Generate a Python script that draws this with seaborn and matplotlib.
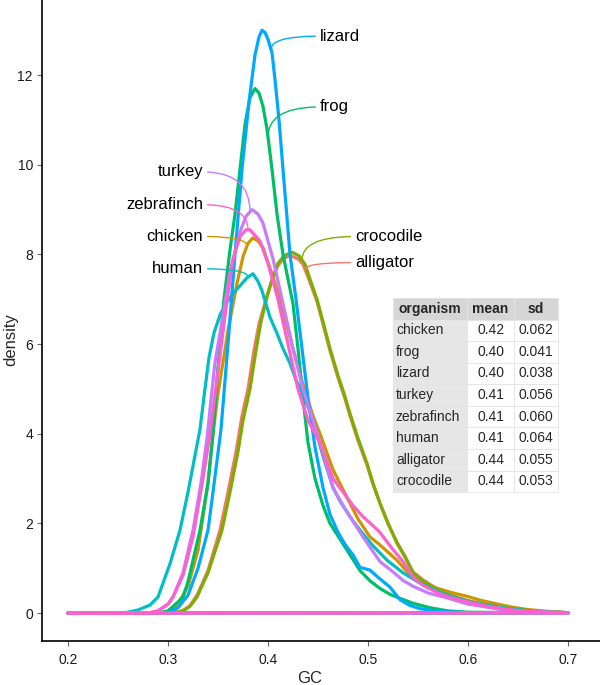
import numpy as np
import pandas as pd
import matplotlib
matplotlib.use("Agg")
import matplotlib.pyplot as plt
import seaborn as sns

# GC-content density per organism
organisms = ["alligator", "chicken", "crocodile", "frog", "human", "lizard", "turkey", "zebrafinch"]
colors = ["#F8766D", "#CD9600", "#7CAE00", "#00BE67", "#00BFC4", "#00A9FF", "#C77CFF", "#FF61CC"]

alligator_gc = [0.20, 0.30, 0.31, 0.315, 0.322, 0.329, 0.34, 0.352, 0.36, 0.368, 0.374, 0.38, 0.386, 0.391,
                0.398, 0.404, 0.41, 0.415, 0.422, 0.43, 0.435, 0.442, 0.449, 0.455, 0.462, 0.47, 0.476, 0.482,
                0.49, 0.499, 0.505, 0.512, 0.52, 0.529, 0.537, 0.545, 0.555, 0.565, 0.575, 0.585, 0.60, 0.62,
                0.64, 0.66, 0.68, 0.70]
alligator_d = [0, 0, 0.03, 0.06, 0.17, 0.4, 0.95, 1.85, 2.7, 3.6, 4.4, 5.0, 5.86, 6.45,
               7.0, 7.45, 7.75, 7.9, 7.98, 7.9, 7.78, 7.38, 6.95, 6.45, 5.85, 5.25, 4.85, 4.4,
               3.85, 3.3, 2.87, 2.45, 2.0, 1.58, 1.27, 0.92, 0.74, 0.6, 0.48, 0.38, 0.28, 0.18,
               0.11, 0.06, 0.03, 0.01]

chicken_gc = [0.20, 0.29, 0.30, 0.31, 0.32, 0.33, 0.34, 0.345, 0.35, 0.36, 0.369, 0.375, 0.38, 0.385,
              0.39, 0.395, 0.405, 0.415, 0.425, 0.435, 0.445, 0.452, 0.465, 0.479, 0.49, 0.502, 0.512,
              0.529, 0.54, 0.552, 0.565, 0.585, 0.60, 0.612, 0.63, 0.645, 0.66, 0.679, 0.70]
chicken_d = [0, 0, 0.03, 0.2, 0.6, 1.4, 2.9, 4.0, 4.9, 6.3, 7.35, 7.95, 8.25, 8.37,
             8.3, 8.15, 7.5, 6.75, 5.9, 5.1, 4.4, 4.0, 3.2, 2.58, 2.1, 1.7, 1.52,
             1.18, 0.9, 0.73, 0.58, 0.45, 0.37, 0.29, 0.2, 0.13, 0.08, 0.04, 0.01]

crocodile_gc = [0.20, 0.30, 0.31, 0.315, 0.322, 0.329, 0.34, 0.354, 0.362, 0.37, 0.375, 0.382, 0.388, 0.393,
                0.399, 0.405, 0.41, 0.416, 0.424, 0.431, 0.437, 0.442, 0.449, 0.455, 0.462, 0.47, 0.476,
                0.482, 0.49, 0.499, 0.505, 0.512, 0.52, 0.529, 0.537, 0.545, 0.555, 0.565, 0.575, 0.585,
                0.60, 0.62, 0.64, 0.66, 0.68, 0.70]
crocodile_d = [0, 0, 0.02, 0.05, 0.15, 0.36, 0.9, 1.85, 2.7, 3.6, 4.3, 5.0, 5.86, 6.5,
               7.05, 7.5, 7.8, 7.97, 8.05, 7.97, 7.78, 7.45, 7.0, 6.5, 5.9, 5.3, 4.9,
               4.45, 3.9, 3.34, 2.9, 2.45, 2.0, 1.56, 1.25, 0.9, 0.72, 0.58, 0.46, 0.37,
               0.27, 0.17, 0.1, 0.06, 0.03, 0.01]

frog_gc = [0.20, 0.29, 0.30, 0.31, 0.315, 0.32, 0.332, 0.34, 0.345, 0.35, 0.356, 0.362, 0.367, 0.372,
           0.377, 0.382, 0.387, 0.391, 0.395, 0.399, 0.404, 0.409, 0.415, 0.425, 0.43, 0.435, 0.44, 0.447,
           0.455, 0.462, 0.472, 0.482, 0.492, 0.502, 0.512, 0.522, 0.532, 0.545, 0.562, 0.58, 0.60, 0.70]
frog_d = [0, 0, 0.05, 0.25, 0.36, 0.7, 1.85, 2.9, 4.0, 5.5, 7.0, 8.1, 8.9, 9.9,
          10.9, 11.5, 11.7, 11.6, 11.3, 10.8, 9.9, 8.9, 8.0, 6.9, 5.9, 4.8, 3.8, 3.0,
          2.4, 2.0, 1.65, 1.3, 0.95, 0.72, 0.55, 0.42, 0.33, 0.22, 0.12, 0.05, 0.02, 0]

human_gc = [0.20, 0.25, 0.26, 0.27, 0.282, 0.29, 0.302, 0.312, 0.32, 0.326, 0.332, 0.337, 0.341, 0.346,
            0.352, 0.358, 0.365, 0.372, 0.379, 0.385, 0.39, 0.394, 0.402, 0.409, 0.415, 0.422, 0.428,
            0.435, 0.445, 0.455, 0.465, 0.472, 0.482, 0.492, 0.505, 0.519, 0.535, 0.552, 0.57, 0.585,
            0.60, 0.619, 0.635, 0.652, 0.675, 0.70]
human_d = [0, 0, 0.02, 0.07, 0.18, 0.36, 1.1, 1.85, 2.7, 3.4, 4.1, 5.0, 5.7, 6.25,
           6.65, 6.9, 7.13, 7.3, 7.48, 7.57, 7.4, 7.19, 6.6, 6.24, 5.9, 5.57, 5.2,
           4.9, 4.3, 3.5, 2.8, 2.5, 2.15, 1.85, 1.5, 1.18, 0.9, 0.67, 0.48, 0.36,
           0.26, 0.18, 0.12, 0.07, 0.03, 0.01]

lizard_gc = [0.20, 0.30, 0.31, 0.32, 0.33, 0.34, 0.345, 0.353, 0.36, 0.367, 0.374, 0.381, 0.387, 0.391,
             0.394, 0.397, 0.40, 0.404, 0.407, 0.411, 0.415, 0.422, 0.428, 0.434, 0.44, 0.447, 0.455, 0.462,
             0.47, 0.478, 0.485, 0.492, 0.502, 0.51, 0.522, 0.532, 0.542, 0.552, 0.57, 0.60, 0.70]
lizard_d = [0, 0, 0.12, 0.4, 1.0, 1.85, 2.7, 4.1, 6.0, 8.0, 9.9, 11.4, 12.45, 12.85,
            13.0, 12.95, 12.8, 12.5, 11.9, 11.0, 9.9, 8.0, 7.0, 5.9, 4.8, 3.7, 2.8, 2.2,
            1.8, 1.5, 1.3, 1.02, 0.96, 0.8, 0.58, 0.3, 0.17, 0.1, 0.04, 0.01, 0]

turkey_gc = [0.20, 0.28, 0.29, 0.30, 0.305, 0.315, 0.325, 0.333, 0.339, 0.347, 0.354, 0.362, 0.372, 0.378,
             0.384, 0.39, 0.395, 0.405, 0.415, 0.425, 0.435, 0.445, 0.452, 0.465, 0.475, 0.485, 0.495,
             0.502, 0.512, 0.525, 0.535, 0.545, 0.56, 0.579, 0.60, 0.612, 0.63, 0.652, 0.68, 0.70]
turkey_d = [0, 0, 0.05, 0.2, 0.36, 0.9, 1.85, 2.9, 3.9, 5.6, 6.5, 7.6, 8.5, 8.85,
            9.0, 8.9, 8.7, 7.9, 6.9, 5.9, 5.0, 4.3, 3.8, 2.8, 2.4, 2.05, 1.7,
            1.47, 1.15, 0.92, 0.73, 0.6, 0.45, 0.34, 0.2, 0.16, 0.09, 0.04, 0.01, 0]

zebrafinch_gc = [0.20, 0.28, 0.29, 0.30, 0.305, 0.315, 0.325, 0.335, 0.342, 0.35, 0.358, 0.365, 0.372, 0.378,
                 0.382, 0.386, 0.392, 0.40, 0.41, 0.42, 0.43, 0.44, 0.452, 0.465, 0.475, 0.485, 0.495,
                 0.505, 0.512, 0.522, 0.535, 0.545, 0.555, 0.57, 0.585, 0.60, 0.62, 0.64, 0.66, 0.70]
zebrafinch_d = [0, 0, 0.05, 0.2, 0.36, 0.85, 1.7, 3.0, 4.0, 5.4, 6.8, 7.9, 8.4, 8.55,
                8.55, 8.45, 8.3, 7.8, 7.0, 6.0, 5.0, 4.3, 3.8, 3.0, 2.7, 2.4, 2.15,
                1.95, 1.8, 1.5, 1.15, 0.8, 0.62, 0.45, 0.33, 0.25, 0.15, 0.08, 0.04, 0.01]

curves = {
    "alligator": (alligator_gc, alligator_d),
    "chicken": (chicken_gc, chicken_d),
    "crocodile": (crocodile_gc, crocodile_d),
    "frog": (frog_gc, frog_d),
    "human": (human_gc, human_d),
    "lizard": (lizard_gc, lizard_d),
    "turkey": (turkey_gc, turkey_d),
    "zebrafinch": (zebrafinch_gc, zebrafinch_d),
}

# summary table (row order as in the figure)
table_organism = ["chicken", "frog", "lizard", "turkey", "zebrafinch", "human", "alligator", "crocodile"]
table_mean = [0.42, 0.40, 0.40, 0.41, 0.41, 0.41, 0.44, 0.44]
table_sd = [0.062, 0.041, 0.038, 0.056, 0.060, 0.064, 0.055, 0.053]

# direct labels: text position and the GC where the leader line meets the curve
right_labels = {"lizard": (0.452, 12.87, 0.403), "frog": (0.452, 11.29, 0.400),
                "crocodile": (0.487, 8.40, 0.434), "alligator": (0.487, 7.82, 0.437)}
left_labels = {"turkey": (0.335, 9.84, 0.382), "zebrafinch": (0.335, 9.11, 0.380),
               "chicken": (0.335, 8.40, 0.379), "human": (0.335, 7.68, 0.380)}


def build_frame():
    """Long-form frame; each outline is closed back along the baseline like geom_density."""
    rows = []
    for org in organisms:
        gc, d = curves[org]
        xs = list(gc) + [gc[0]]
        ys = list(d) + [0.0]
        for i, (x, y) in enumerate(zip(xs, ys)):
            rows.append({"organism": org, "step": i, "GC": x, "density": y})
    return pd.DataFrame(rows)


def main():
    sns.set_style("ticks")
    plt.rcParams["font.family"] = ["Liberation Sans", "DejaVu Sans"]

    df = build_frame()
    palette = dict(zip(organisms, colors))

    fig = plt.figure(figsize=(6, 6.85), dpi=100)
    ax = fig.add_axes([0.07, 0.064, 0.93, 0.936])

    sns.lineplot(data=df, x="GC", y="density", hue="organism", hue_order=organisms,
                 palette=palette, sort=False, estimator=None, linewidth=2.3,
                 legend=False, ax=ax)

    # leader-line labels
    for labels, side in ((right_labels, "right"), (left_labels, "left")):
        for org, (tx, ty, agc) in labels.items():
            gc, d = curves[org]
            ay = np.interp(agc, gc, d)
            ax.annotate(org, xy=(agc, ay), xytext=(tx, ty),
                        ha="left" if side == "right" else "right", va="center",
                        fontsize=12, color="black",
                        arrowprops=dict(arrowstyle="-", color=palette[org], lw=1.0,
                                        shrinkA=1, shrinkB=0,
                                        relpos=(0, 0.5) if side == "right" else (1, 0.5),
                                        connectionstyle="angle3,angleA=0,angleB=90"))

    ax.set_xlim(0.174, 0.732)
    ax.set_ylim(-0.625, 13.675)
    xt = np.round(np.arange(0.2, 0.71, 0.1), 1)
    ax.set_xticks(xt)
    ax.set_xticklabels([f"{v:.1f}" for v in xt])
    ax.set_yticks(np.arange(0, 13, 2))
    ax.tick_params(axis="both", length=3.5, width=0.8, color="#666666",
                   labelsize=10, labelcolor="#1a1a1a", pad=3)
    ax.tick_params(axis="x", pad=5)
    ax.set_xlabel("GC", fontsize=12)
    ax.set_ylabel("density", fontsize=12)
    ax.xaxis.set_label_coords(0.48, -0.046)
    ax.yaxis.set_label_coords(-0.043, 0.47)
    for side in ("left", "bottom"):
        ax.spines[side].set_linewidth(1.2)
        ax.spines[side].set_color("black")
    sns.despine(ax=ax)

    cell_text = [[o, f"{m:.2f}", f"{s:.3f}"] for o, m, s in zip(table_organism, table_mean, table_sd)]
    tbl = ax.table(cellText=cell_text, colLabels=["organism", "mean", "sd"],
                   colWidths=[74, 47, 44], cellLoc="center", colLoc="center",
                   bbox=[0.629, 0.2325, 0.296, 0.3027], zorder=5)
    tbl.auto_set_font_size(False)
    tbl.set_fontsize(10)
    for (r, c), cell in tbl.get_celld().items():
        cell.set_edgecolor("#e4e4e4")
        cell.set_linewidth(0.6)
        if r == 0:
            cell.set_facecolor("#d6d6d6")
            cell.get_text().set_fontweight("bold")
        elif c == 0:
            cell.set_facecolor("#e6e6e6")
            cell.get_text().set_ha("left")
            cell.PAD = 0.04
        else:
            cell.set_facecolor("white")

    fig.savefig("out.png", dpi=100)


if __name__ == "__main__":
    main()
